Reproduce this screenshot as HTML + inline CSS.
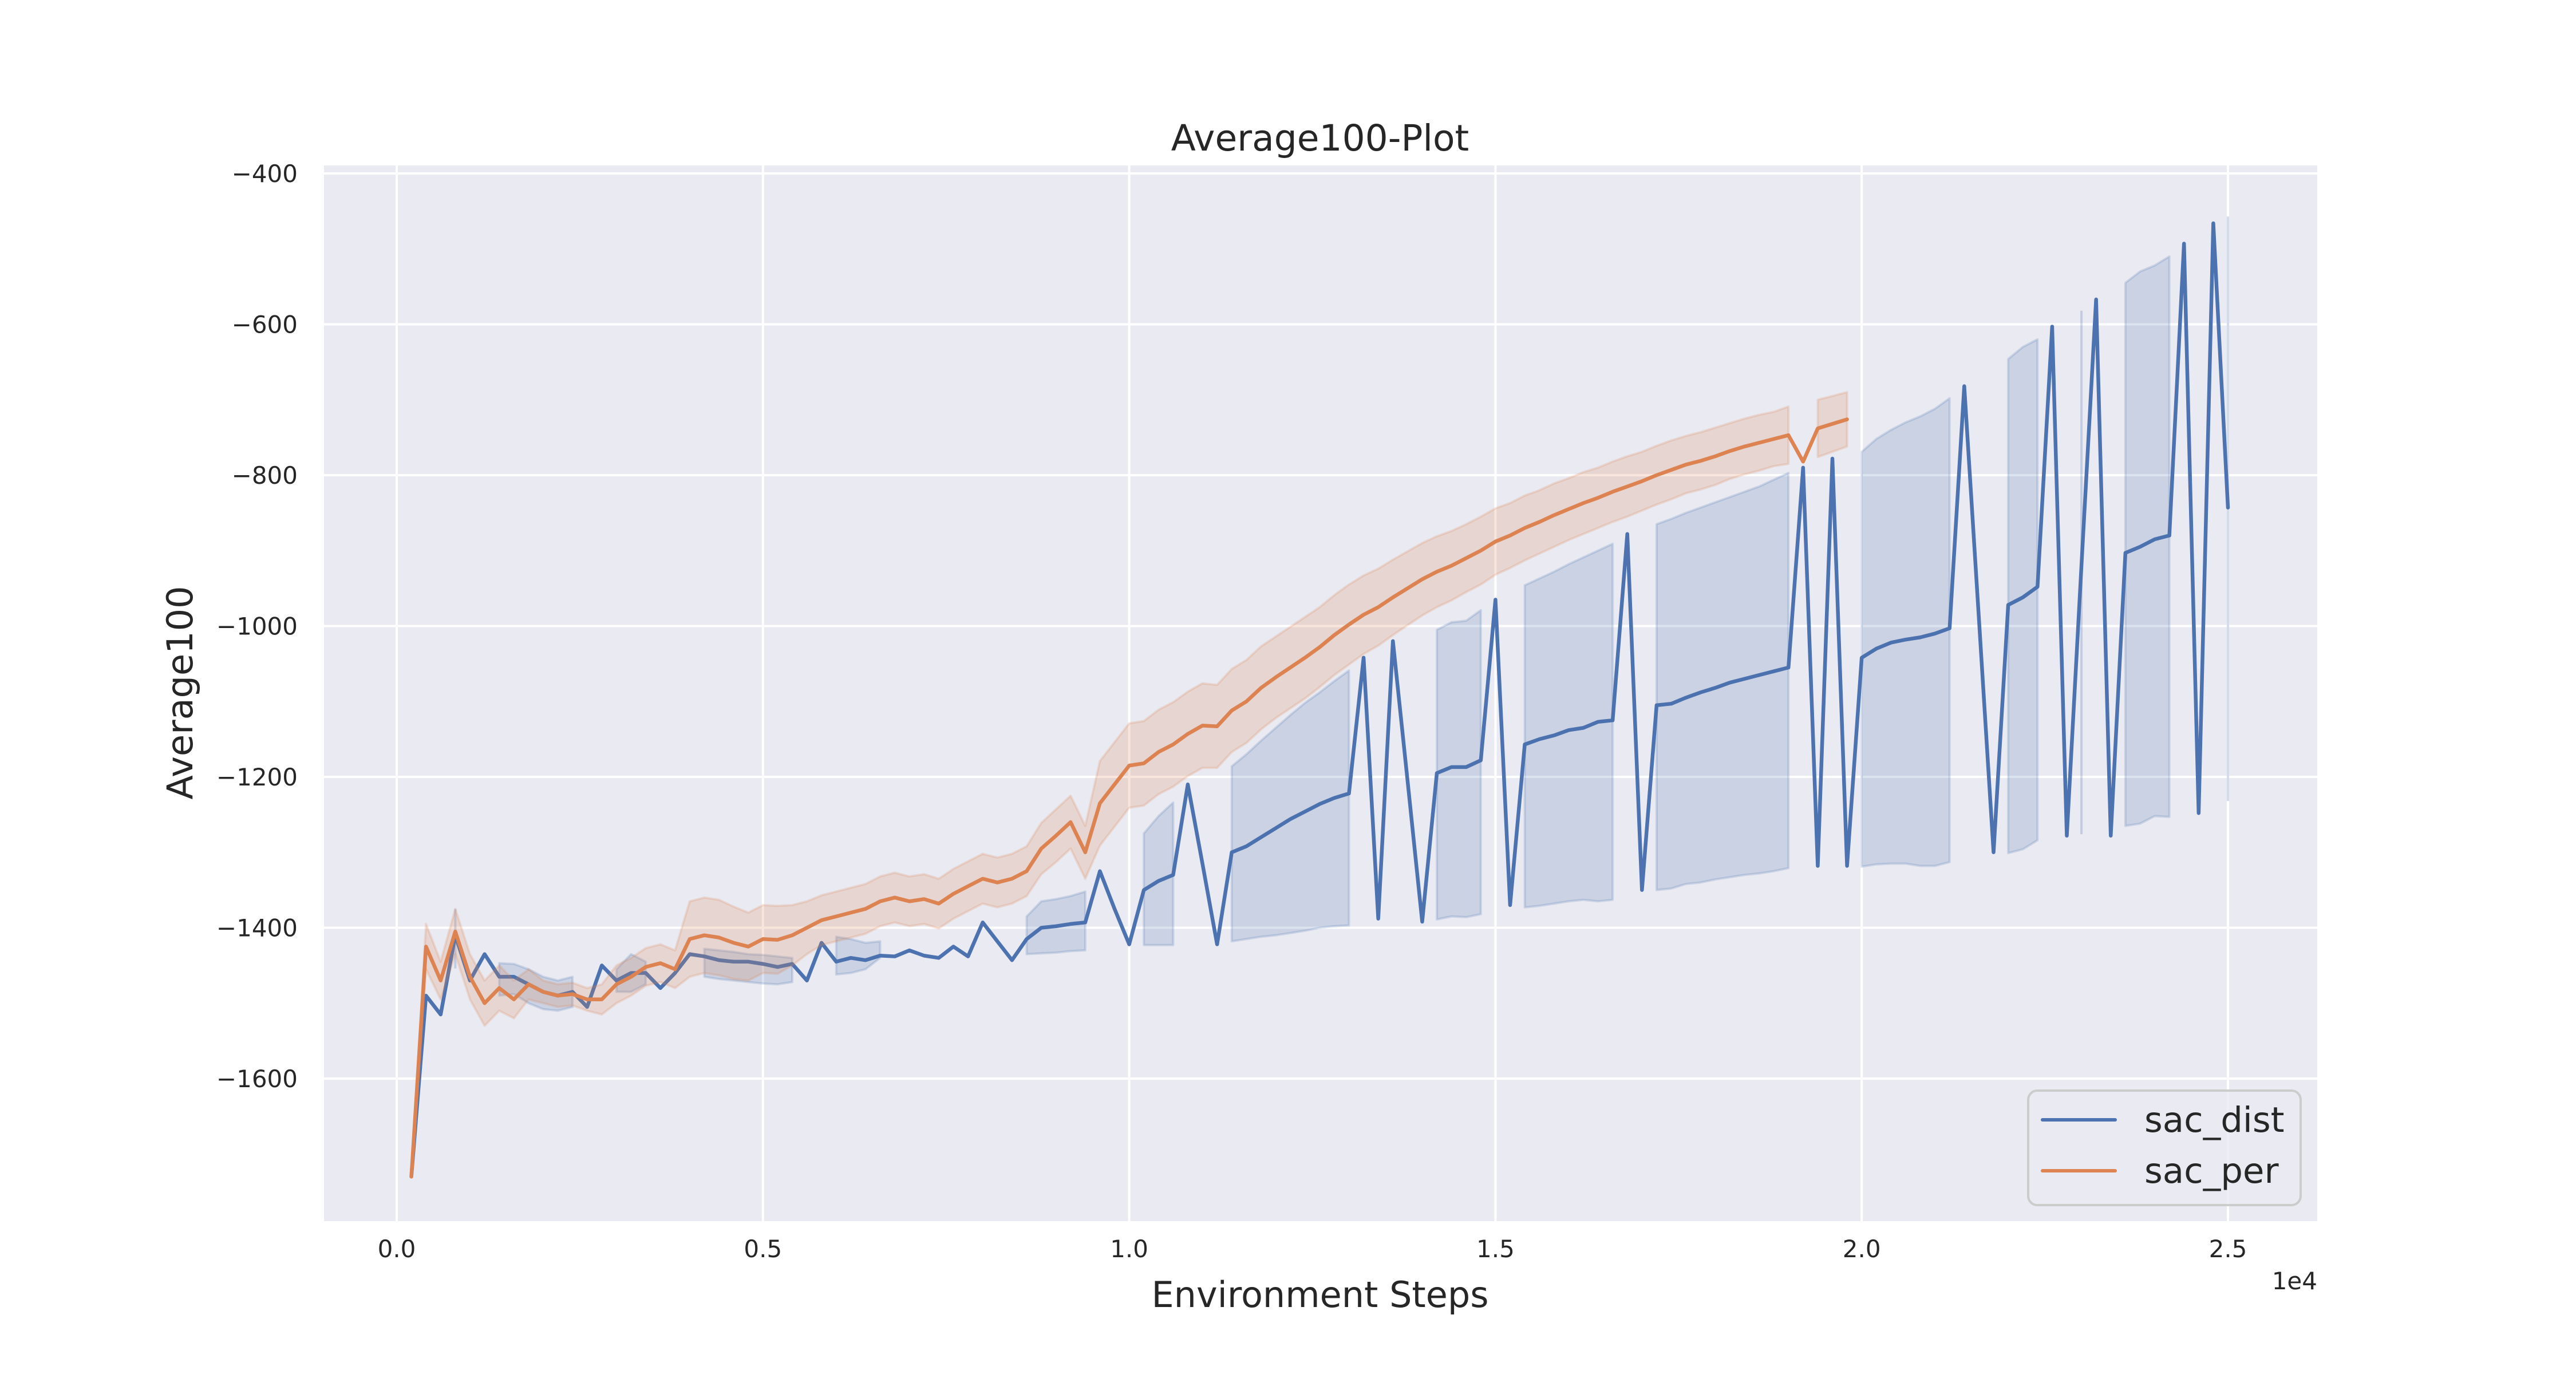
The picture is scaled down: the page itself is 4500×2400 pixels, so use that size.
<!DOCTYPE html>
<html><head><meta charset="utf-8"><style>
html,body{margin:0;padding:0;background:#fff;}
svg{display:block;font-family:"DejaVu Sans","Liberation Sans",sans-serif;}
</style></head><body>
<svg id="chart" width="4500" height="2400" viewBox="0 0 4500 2400" xmlns="http://www.w3.org/2000/svg">
<rect width="4500" height="2400" fill="#ffffff"/>
<defs><clipPath id="pclip"><rect x="566" y="289" width="3482" height="1844"/></clipPath></defs>
<rect x="566" y="289" width="3482" height="1844" fill="#eaeaf2"/>
<g id="grid"></g>
<g id="series" clip-path="url(#pclip)"></g>
<g id="ticks"></g>
<text x="2306" y="263" font-size="63" text-anchor="middle" fill="#262626">Average100-Plot</text>
<text x="2306" y="2283" font-size="62" text-anchor="middle" fill="#262626">Environment Steps</text>
<text transform="translate(336,1210) rotate(-90)" font-size="62" text-anchor="middle" fill="#262626">Average100</text>
<text x="4048" y="2252" font-size="42" text-anchor="end" fill="#262626">1e4</text>
<g>
<rect x="3543" y="1905" width="476" height="200" rx="16" fill="#eaeaf2" fill-opacity="0.8" stroke="#cccccc" stroke-width="4"/>
<line x1="3568" y1="1956" x2="3695" y2="1956" stroke="#4c72b0" stroke-width="6" stroke-linecap="round"/>
<text x="3746" y="1977" font-size="61" fill="#262626">sac_dist</text>
<line x1="3568" y1="2045" x2="3695" y2="2045" stroke="#dd8452" stroke-width="6" stroke-linecap="round"/>
<text x="3746" y="2066" font-size="61" fill="#262626">sac_per</text>
</g>
</svg>
<script>
const xTicks = [0, 5000, 10000, 15000, 20000, 25000];
const xTickLabels = ["0.0", "0.5", "1.0", "1.5", "2.0", "2.5"];
const yTicks = [-400, -600, -800, -1000, -1200, -1400, -1600];
const yTickLabels = ["\u2212400", "\u2212600", "\u2212800", "\u22121000", "\u22121200", "\u22121400", "\u22121600"];

const blueStart = 200, blueStep = 200;
const blueMean = [-1730,-1490,-1515,-1410,-1470,-1435,-1465,-1465,-1475,-1485,-1490,-1485,-1505,-1450,-1470,-1460,-1460,-1480,-1460,-1435,
-1438,-1443,-1445,-1445,-1448,-1452,-1448,-1470,-1420,-1445,-1440,-1443,-1437,-1438,-1430,-1437,-1440,-1425,-1438,-1393,
-1418,-1443,-1415,-1400,-1398,-1395,-1393,-1325,-1375,-1422,-1350,-1338,-1330,-1210,-1315,-1422,-1300,-1292,-1280,-1268,
-1256,-1246,-1236,-1228,-1222,-1042,-1388,-1020,-1205,-1392,-1195,-1187,-1187,-1178,-965,-1370,-1157,-1150,-1145,-1138,
-1135,-1127,-1125,-878,-1350,-1105,-1103,-1095,-1088,-1082,-1075,-1070,-1065,-1060,-1055,-790,-1318,-778,-1318,-1042,
-1030,-1022,-1018,-1015,-1010,-1003,-682,-990,-1300,-972,-962,-948,-603,-1278,-920,-567,-1278,-903,-895,-885,
-880,-493,-1248,-466,-843];
const N=null;
const blueHi = [N,N,N,-1375,N,N,-1447,-1448,-1455,-1465,-1470,-1465,N,N,-1455,-1435,-1445,N,N,N,
-1428,-1430,-1432,-1435,-1436,-1438,-1440,N,N,-1412,-1415,-1420,-1418,N,N,N,N,N,N,N,
N,N,-1385,-1365,-1362,-1358,-1352,N,N,N,-1275,-1252,-1234,N,N,N,-1186,-1170,-1152,-1135,
-1118,-1102,-1088,-1073,-1059,N,N,N,N,N,-1005,-995,-993,-979,N,N,-946,-937,-928,-918,
-909,-900,-891,N,N,-865,-858,-850,-843,-836,-829,-822,-815,-806,-797,N,N,N,N,-769,
-752,-740,-730,-722,-712,-698,N,N,N,-646,-630,-620,N,N,-582,N,N,-545,-530,-522,
-510,N,N,N,-457];
const blueLo = [N,N,N,-1454,N,N,-1490,-1488,-1500,-1508,-1510,-1505,N,N,-1485,-1485,-1475,N,N,N,
-1465,-1468,-1470,-1472,-1474,-1475,-1472,N,N,-1462,-1460,-1455,-1440,N,N,N,N,N,N,N,
N,N,-1435,-1434,-1433,-1431,-1430,N,N,N,-1423,-1423,-1423,N,N,N,-1418,-1415,-1412,-1410,
-1407,-1404,-1400,-1398,-1397,N,N,N,N,N,-1389,-1385,-1386,-1382,N,N,-1373,-1371,-1368,-1365,
-1363,-1365,-1363,N,N,-1350,-1348,-1342,-1340,-1336,-1333,-1330,-1328,-1325,-1321,N,N,N,N,-1319,
-1316,-1315,-1315,-1318,-1318,-1313,N,N,N,-1301,-1296,-1284,N,N,-1276,N,N,-1265,-1262,-1252,
-1253,N,N,N,-1232];

const orangeStart = 200, orangeStep = 200;
const orangeMean = [-1730,-1425,-1470,-1405,-1465,-1500,-1480,-1495,-1475,-1485,-1490,-1488,-1495,-1495,-1475,-1465,-1452,-1447,-1455,-1415,
-1410,-1413,-1420,-1425,-1415,-1416,-1410,-1400,-1390,-1385,-1380,-1375,-1365,-1360,-1365,-1362,-1368,-1355,-1345,-1335,
-1340,-1335,-1325,-1295,-1278,-1260,-1300,-1235,-1210,-1185,-1182,-1167,-1157,-1143,-1132,-1133,-1112,-1100,-1082,-1068,
-1055,-1042,-1028,-1012,-998,-985,-975,-962,-950,-938,-928,-920,-910,-900,-888,-880,-870,-862,-853,-845,
-837,-830,-822,-815,-808,-800,-793,-786,-781,-775,-768,-762,-757,-752,-747,-782,-738,-732,-726];
const orangeErr = [0,30,25,30,30,30,30,25,20,15,15,15,15,20,25,25,25,25,25,50,
50,50,48,45,45,45,40,35,33,33,33,33,33,33,33,33,33,33,33,33,
33,33,33,34,35,35,35,56,56,56,56,56,56,56,56,55,55,55,55,54,
54,54,53,53,53,52,51,50,49,48,47,46,45,45,44,43,43,42,42,41,
41,40,40,40,39,39,39,38,38,38,37,37,37,36,38,N,38,37,36];

const X0=693, XS=1279.6/10000, Y0=303, YS=263.5/200;
function xScale(v){return X0+v*XS;}
function yScale(v){return Y0+(-400-v)*YS;}
const NS="http://www.w3.org/2000/svg";
function mk(tag,attrs,parent){const e=document.createElementNS(NS,tag);for(const k in attrs)e.setAttribute(k,attrs[k]);parent.appendChild(e);return e;}

const grid=document.getElementById('grid'), ticks=document.getElementById('ticks'), series=document.getElementById('series');
xTicks.forEach((t,i)=>{
  const l=mk('line',{x1:xScale(t),x2:xScale(t),y1:289,y2:2133,stroke:'#ffffff','stroke-width':4},grid);
  
  
  const tx=mk('text',{x:xScale(t),y:2196,'font-size':42,'text-anchor':'middle',fill:'#262626'},ticks);
  tx.textContent=xTickLabels[i];
  
  
});
yTicks.forEach((t,i)=>{
  const l=mk('line',{x1:566,x2:4048,y1:yScale(t),y2:yScale(t),stroke:'#ffffff','stroke-width':4},grid);
  
  
  const tx=mk('text',{x:520,y:yScale(t)+15,'font-size':42,'text-anchor':'end',fill:'#262626'},ticks);
  tx.textContent=yTickLabels[i];
  
  
});

function drawBand(start,step,hi,lo,color,name){
  let seg=[];
  const flush=()=>{
    if(seg.length===1){
      const p=seg[0];
      const l=mk('line',{x1:xScale(p[0]),x2:xScale(p[0]),y1:yScale(p[1]),y2:yScale(p[2]),stroke:color,'stroke-opacity':0.25,'stroke-width':4},series);
      
      
    } else if(seg.length>1){
      let pts=seg.map(p=>xScale(p[0])+','+yScale(p[1]));
      pts=pts.concat(seg.slice().reverse().map(p=>xScale(p[0])+','+yScale(p[2])));
      const pg=mk('polygon',{points:pts.join(' '),fill:color,'fill-opacity':0.2,stroke:color,'stroke-opacity':0.2,'stroke-width':4,'stroke-linejoin':'round'},series);
      
      
    }
    seg=[];
  };
  for(let i=0;i<hi.length;i++){
    if(hi[i]===null||lo[i]===null){flush();continue;}
    seg.push([start+i*step,hi[i],lo[i]]);
  }
  flush();
}
function drawLine(start,step,vals,color,name){
  const pts=vals.map((v,i)=>xScale(start+i*step)+','+yScale(v)).join(' ');
  const pl=mk('polyline',{points:pts,fill:'none',stroke:color,'stroke-width':6.5,'stroke-linejoin':'round','stroke-linecap':'round'},series);
  
  
}
drawLine(blueStart,blueStep,blueMean,'#4c72b0','sac-dist-line');
drawBand(blueStart,blueStep,blueHi,blueLo,'#4c72b0','sac-dist-ci-band');
const orangeHi=orangeMean.map((v,i)=>orangeErr[i]===null?null:v+orangeErr[i]);
const orangeLo=orangeMean.map((v,i)=>orangeErr[i]===null?null:v-orangeErr[i]);
drawLine(orangeStart,orangeStep,orangeMean,'#dd8452','sac-per-line');
drawBand(orangeStart,orangeStep,orangeHi,orangeLo,'#dd8452','sac-per-ci-band');
</script>
</body></html>
